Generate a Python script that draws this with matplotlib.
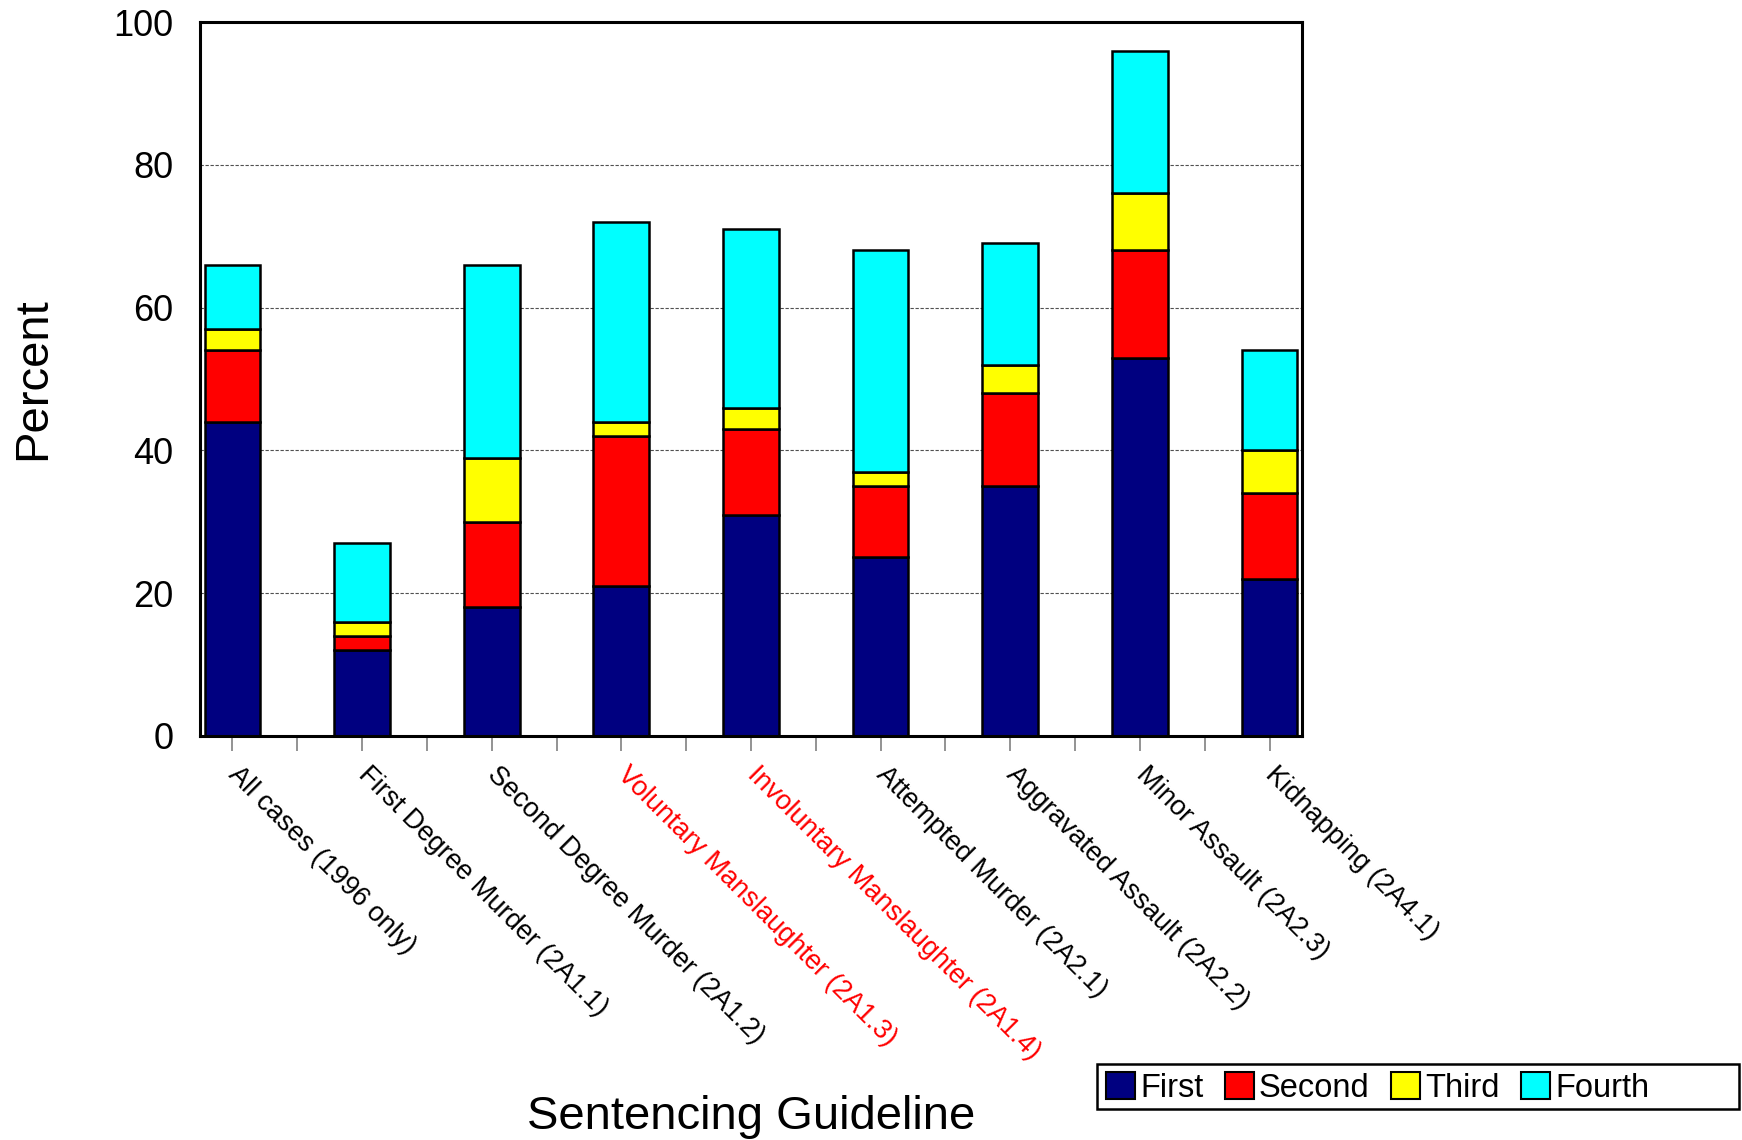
import matplotlib
matplotlib.use('Agg')
import matplotlib.pyplot as plt
import numpy as np
from matplotlib.patches import Patch, Rectangle

plt.rcParams['font.family'] = ['Liberation Sans', 'DejaVu Sans']

# Data (percent, stacked)
categories = ["All cases (1996 only)", "First Degree Murder (2A1.1)",
              "Second Degree Murder (2A1.2)", "Voluntary Manslaughter (2A1.3)",
              "Involuntary Manslaughter (2A1.4)", "Attempted Murder (2A2.1)",
              "Aggravated Assault (2A2.2)", "Minor Assault (2A2.3)",
              "Kidnapping (2A4.1)"]
red_labels = ["Voluntary Manslaughter (2A1.3)", "Involuntary Manslaughter (2A1.4)"]
series_names = ["First", "Second", "Third", "Fourth"]
first = [44, 12, 18, 21, 31, 25, 35, 53, 22]
second = [10, 2, 12, 21, 12, 10, 13, 15, 12]
third = [3, 2, 9, 2, 3, 2, 4, 8, 6]
fourth = [9, 11, 27, 28, 25, 31, 17, 20, 14]
colors = ['#000080', '#FF0000', '#FFFF00', '#00FFFF']

fig = plt.figure(figsize=(17.42, 11.4), dpi=100)
ax = fig.add_axes([0.1148, 0.3544, 0.6326, 0.6263])

# bars sit on every other slot (blank slot between each category)
x = np.arange(len(categories)) * 2
bottom = np.zeros(len(categories))
for vals, col in zip([first, second, third, fourth], colors):
    ax.bar(x, vals, bottom=bottom, width=0.86, color=col,
           edgecolor='black', linewidth=1.8, zorder=3)
    bottom += np.array(vals)

ax.set_xlim(-0.5, 2 * len(categories) - 1.5)
ax.set_ylim(0, 100)

# gridlines
for g in [20, 40, 60, 80]:
    ax.axhline(g, color='#505050', linestyle=(0, (3, 1.5)), linewidth=0.8, zorder=1)

ax.set_yticks([0, 20, 40, 60, 80, 100])
ax.tick_params(axis='y', length=0, pad=19, labelsize=26)

slots = np.arange(2 * len(categories) - 1)
ax.set_xticks(slots)
labels = [categories[i // 2] if i % 2 == 0 else '' for i in slots]
ax.set_xticklabels(labels, rotation=-45, ha='left', va='center',
                   rotation_mode='anchor', fontsize=19.6)
ax.tick_params(axis='x', direction='out', length=11, width=1.2,
               color='#808080', pad=14)
for t in ax.get_xticklabels():
    if t.get_text() in red_labels:
        t.set_color('#FF0000')

for sp in ax.spines.values():
    sp.set_linewidth(2.2)
    sp.set_zorder(5)

ax.set_ylabel('Percent', fontsize=34)
ax.yaxis.set_label_coords(-0.1515, 0.5)
ax.yaxis.label.set_va('center')
ax.set_xlabel('Sentencing Guideline', fontsize=34)
ax.xaxis.label.set_va('center')
ax.xaxis.set_label_coords(0.5, -0.534)

# legend with a wide frame like the original
frame = Rectangle((0.6297, 0.0272), 0.3686, 0.0395, transform=fig.transFigure,
                  facecolor='white', edgecolor='black', linewidth=1.8)
fig.patches.append(frame)
handles = [Patch(facecolor=c, edgecolor='black', linewidth=1.5, label=n)
           for c, n in zip(colors, series_names)]
fig.legend(handles=handles, loc='center left', bbox_to_anchor=(0.633, 0.0455),
           ncol=4, frameon=False, fontsize=23.5, handlelength=0.9,
           handleheight=0.9, handletextpad=0.15, columnspacing=0.65,
           borderpad=0.1, borderaxespad=0)

fig.savefig('out.png', dpi=100, facecolor='white')
